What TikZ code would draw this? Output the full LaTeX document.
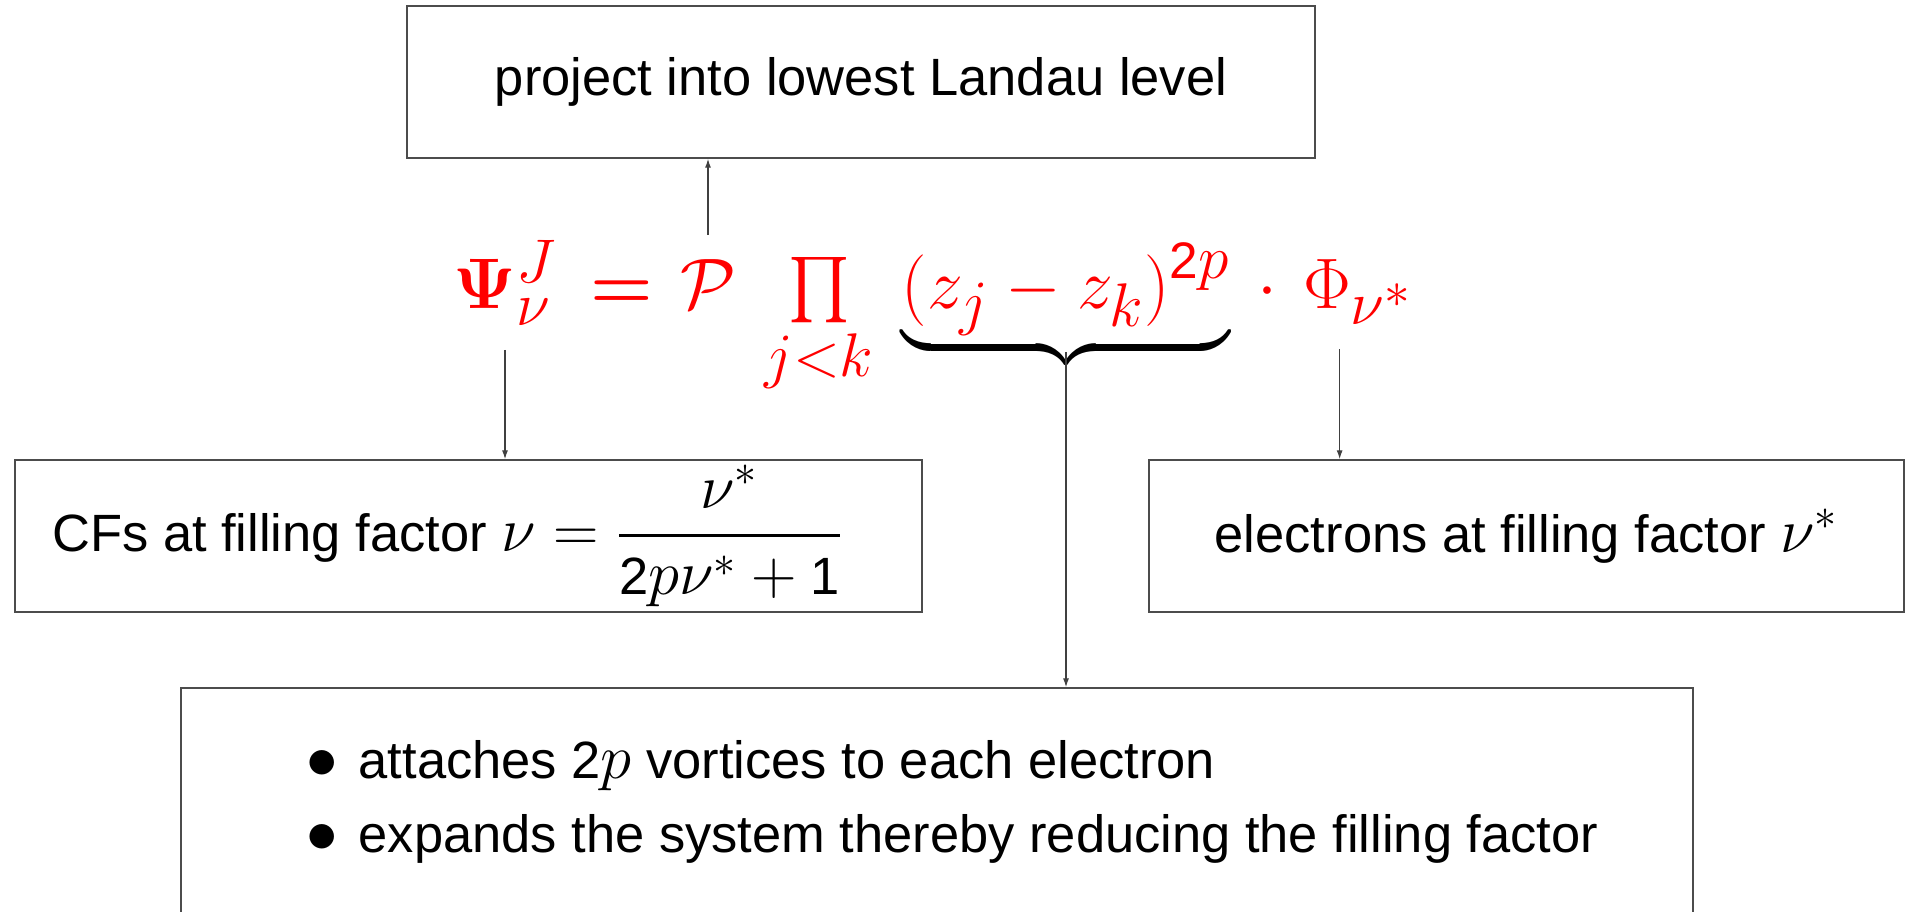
\RequirePackage{fix-cm}
\documentclass[tikz,border=0pt]{standalone}
\usepackage{amsmath}
\usepackage[no-math]{fontspec}
\setmainfont{Liberation Sans}[Scale=0.8333]
\newfontfamily\digitfont{Liberation Sans}[Scale=0.8333,NFSSFamily=lsdigits]
% digits in formulas come from the sans text font
\DeclareSymbolFont{sansdigits}{TU}{lsdigits}{m}{n}
\DeclareMathSymbol{0}{\mathalpha}{sansdigits}{`0}
\DeclareMathSymbol{1}{\mathalpha}{sansdigits}{`1}
\DeclareMathSymbol{2}{\mathalpha}{sansdigits}{`2}
\DeclareMathSymbol{3}{\mathalpha}{sansdigits}{`3}
\DeclareMathSymbol{4}{\mathalpha}{sansdigits}{`4}
\DeclareMathSymbol{5}{\mathalpha}{sansdigits}{`5}
\DeclareMathSymbol{6}{\mathalpha}{sansdigits}{`6}
\DeclareMathSymbol{7}{\mathalpha}{sansdigits}{`7}
\DeclareMathSymbol{8}{\mathalpha}{sansdigits}{`8}
\DeclareMathSymbol{9}{\mathalpha}{sansdigits}{`9}
\DeclareMathSizes{27.3}{27.3}{23.5}{19.5}
\usetikzlibrary{arrows.meta,positioning}

\newcommand{\pxl}{0.0134cm}

\tikzset{
  framebox/.style={draw=black!70,line width=0.6pt,inner sep=0pt},
  flow/.style={draw=black!75,line width=0.45pt,-{Latex[length=3.4pt,width=2.3pt]}},
  wavefn/.style={text=red,inner sep=0pt,anchor=base,font=\fontsize{27.3}{33}\selectfont},
}

\begin{document}
\begin{tikzpicture}[x=\pxl,y=-\pxl,font=\fontsize{24}{28}\selectfont]
  % slide frame, in pixels, y running down
  \useasboundingbox (0,0) rectangle (1910,911);
  \clip (0,0) rectangle (1910,911);

  % wave function, one node per factor, all on the baseline y=308
  \node[wavefn] (psi) at (505,308) {$\boldsymbol{\Psi}^J_\nu$};
  \node[wavefn] (eq) at (622,308) {$\boldsymbol{=}$};
  \node[wavefn] (proj) at (708,308) {$\mathcal{P}$};
  \node[wavefn] (prod) at (819,308) {$\prod\limits_{j<k}$};
  \node[wavefn] (pairs) at (1066,308)
    {$\textcolor{black}{\underbrace{\textcolor{red}{(z_j-z_k)^{2p}}}}$};
  \node[wavefn] (cdot) at (1267,308) {$\cdot$};
  \node[wavefn] (phi) at (1358,308) {$\Phi_{\nu^*}$};

  \coordinate (projtop) at ([yshift=9pt]proj.north);
  \coordinate (psifoot) at ([yshift=-9pt]psi.south);
  \coordinate (phifoot) at ([xshift=-7pt,yshift=-9pt]phi.south);
  \coordinate (bracetip) at ([yshift=3pt]pairs.south);

  % the four boxes
  \node[framebox,minimum width=908*\pxl,minimum height=152*\pxl] (lll) at (861,82)
    {project into lowest Landau level};
  \node[framebox,minimum width=907*\pxl,minimum height=152*\pxl] (cf) at (468.5,536)
    {CFs at filling factor $\nu=\dfrac{\nu^*}{2p\nu^*+1}$\kern16pt};
  \node[framebox,minimum width=755*\pxl,minimum height=152*\pxl] (elec) at (1526.5,536)
    {electrons at filling factor $\nu^*$};
  \node[framebox,minimum width=1512*\pxl,minimum height=230*\pxl] (vort) at (937,803) {};
  \node[anchor=west,align=left,font=\fontsize{24}{28.5}\selectfont] (vortlist) at (299,802)
    {$\bullet$\hspace{0.39em}attaches $2p$ vortices to each electron\\
     $\bullet$\hspace{0.39em}expands the system thereby reducing the filling factor};

  \draw[flow] (projtop) -- (projtop |- lll.south);
  \draw[flow] (psifoot) -- (psifoot |- cf.north);
  \draw[flow] (bracetip) -- (bracetip |- vort.north);
  \draw[flow] (phifoot) -- (phifoot |- elec.north);
\end{tikzpicture}
\end{document}
